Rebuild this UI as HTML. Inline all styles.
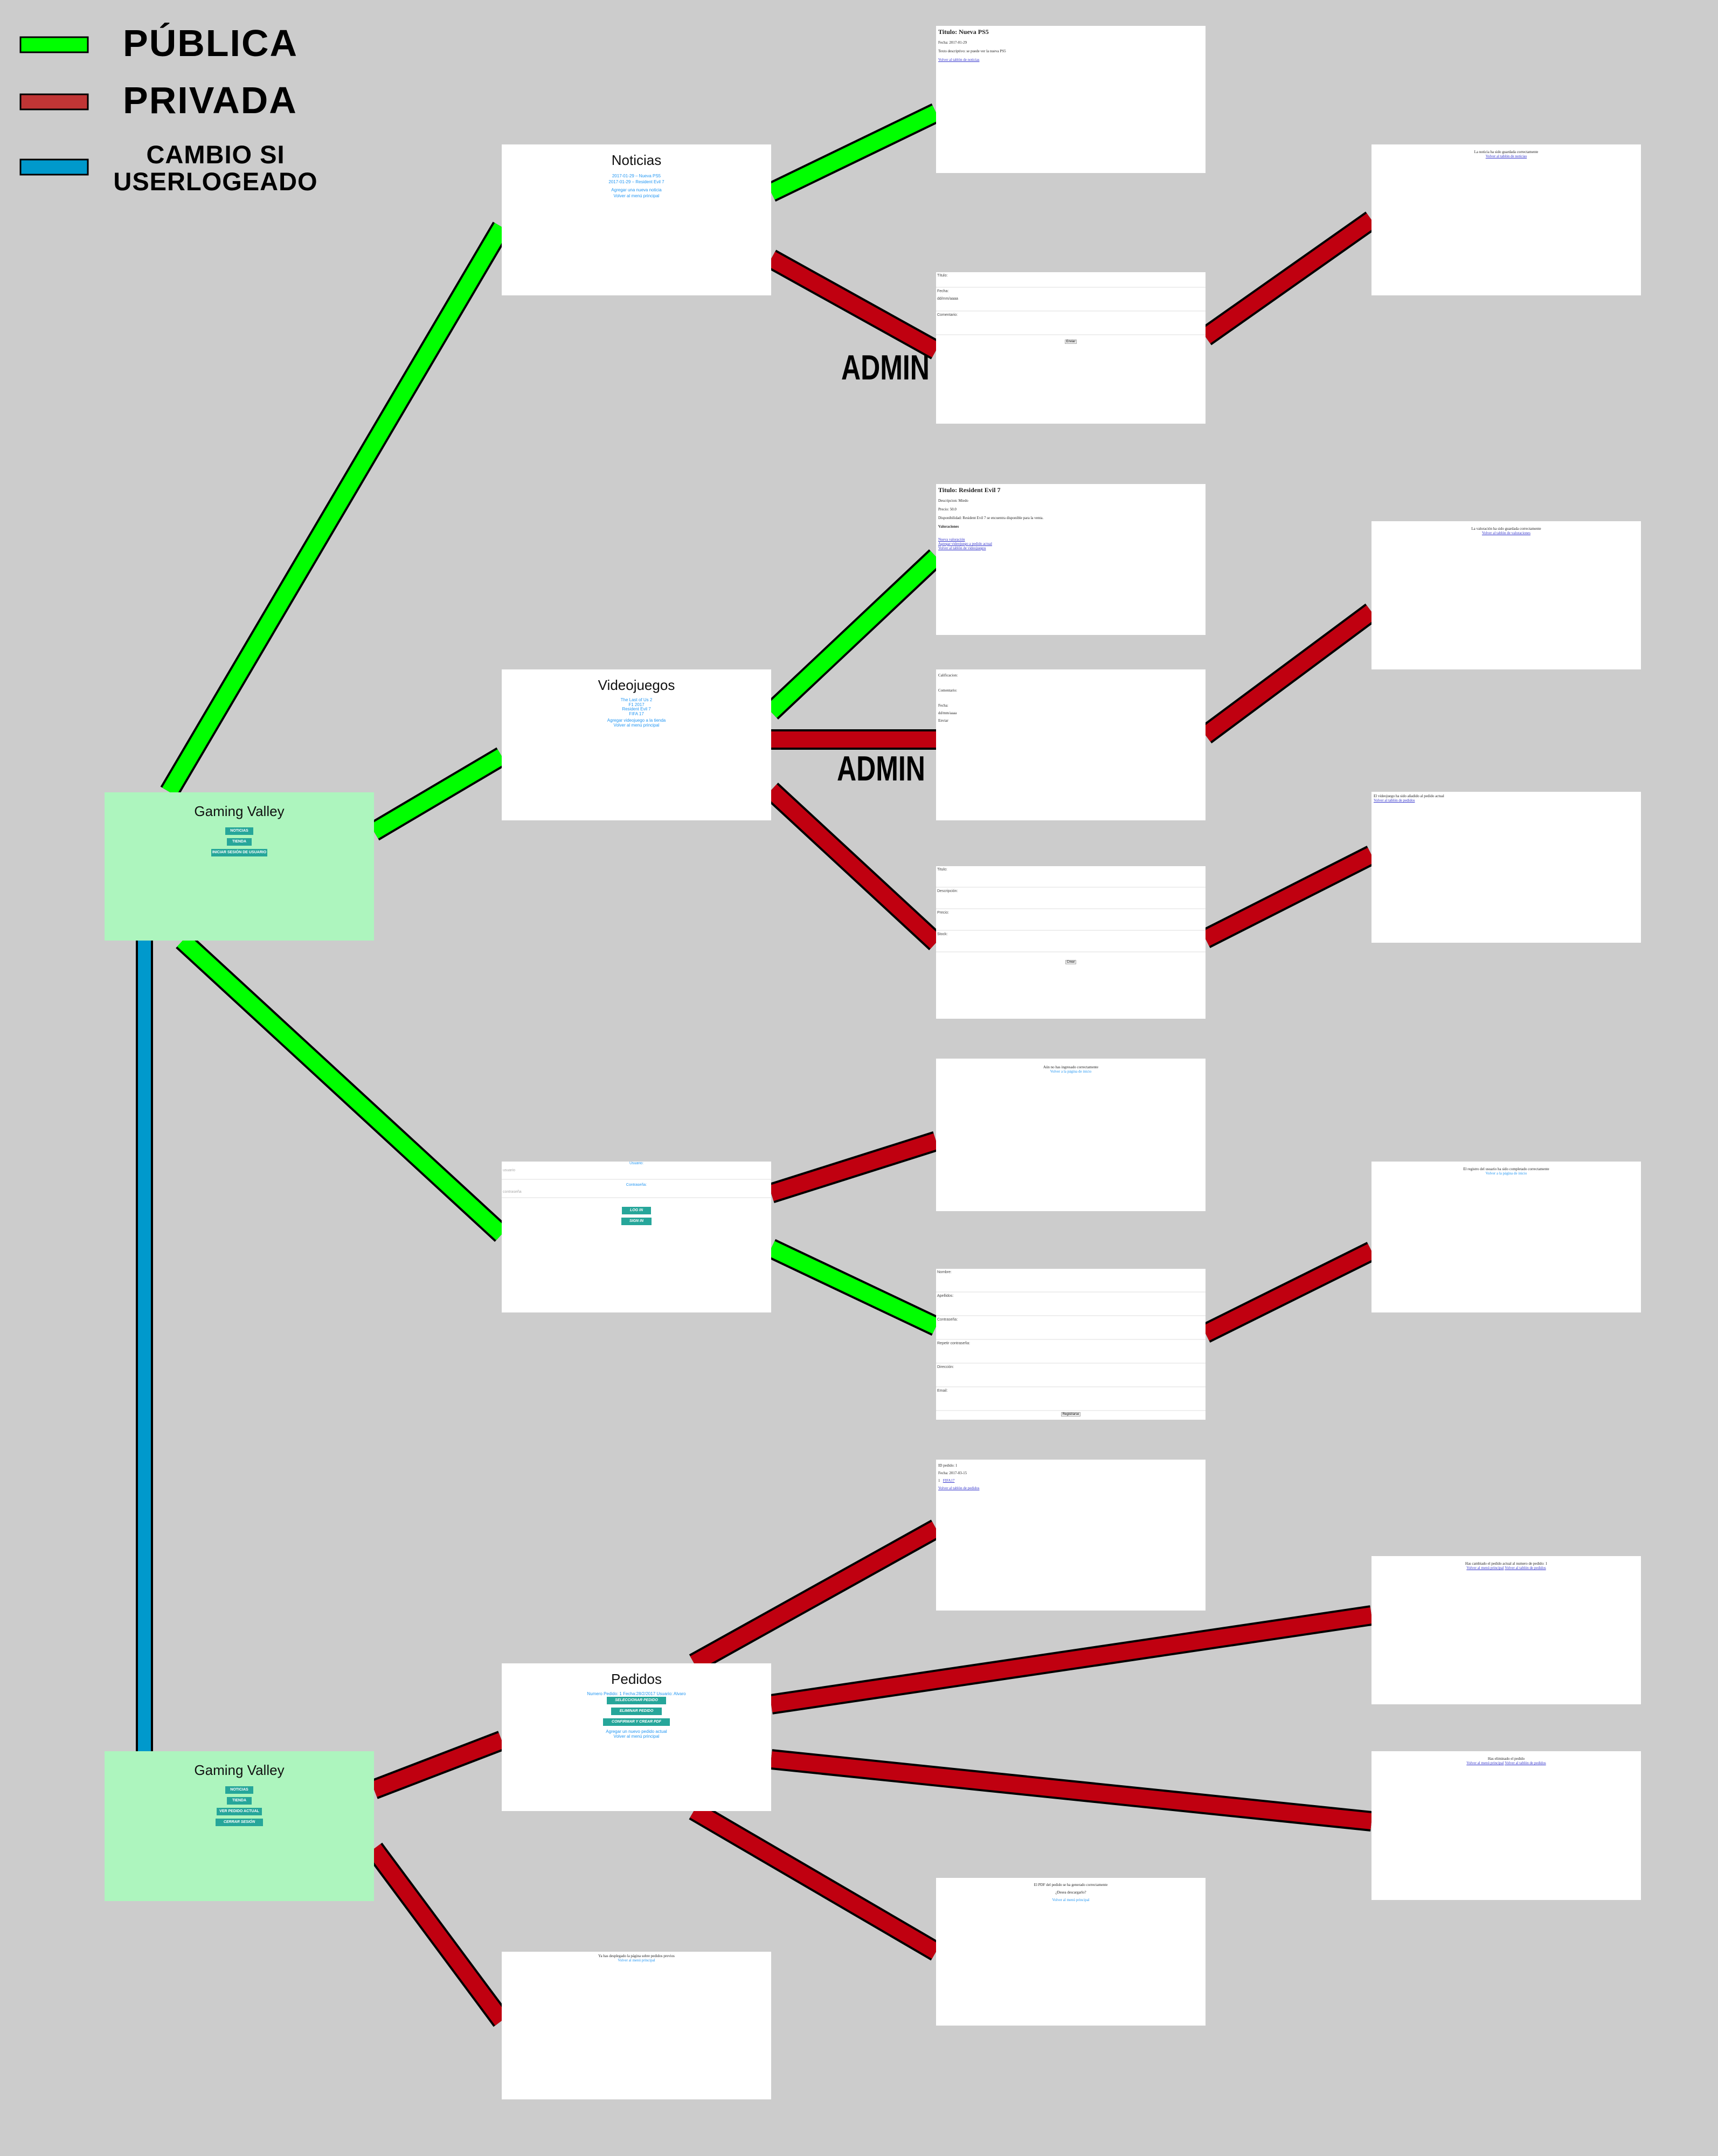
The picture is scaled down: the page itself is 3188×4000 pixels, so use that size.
<!DOCTYPE html>
<html><head><meta charset="utf-8">
<style>
*{margin:0;padding:0;box-sizing:border-box}
body{width:3188px;height:4000px;background:#cccccc;position:relative;overflow:hidden;font-family:"Liberation Sans",sans-serif}
.b{position:absolute;background:#fff;width:500px;height:280px;overflow:hidden}
.g{background:#adf5be}
.t{text-align:center;color:#111;font-size:26px;padding-top:14px}
.lk{color:#2196f3;font-size:8px;text-align:center;line-height:11px}
.btn{display:block;margin:6px auto 0;background:#26a69a;color:#fff;font-size:7px;font-weight:bold;text-align:center;height:14px;line-height:14px}
.serif{font-family:"Liberation Serif",serif;font-size:7px;color:#222;padding:4px}
.f{font-size:7px;color:#444;padding:3px 2px;border-bottom:2px solid #eee;height:44px}
.leg{position:absolute;font-weight:bold;color:#000;font-family:"Liberation Sans",sans-serif;z-index:5;white-space:nowrap}
</style></head><body>
<svg width="3188" height="4000" style="position:absolute;left:0;top:0">
<g stroke-linecap="butt" fill="none">
<g stroke="#000" stroke-width="38">
<line x1="314" y1="1469" x2="931" y2="421"/><line x1="694" y1="1543" x2="931" y2="1403"/><line x1="339" y1="1745" x2="931" y2="2290"/>
<line x1="1431" y1="357" x2="1737" y2="209"/><line x1="1431" y1="480" x2="1737" y2="650"/><line x1="2237" y1="625" x2="2545" y2="408"/>
<line x1="1431" y1="1321" x2="1737" y2="1033"/><line x1="1431" y1="1372" x2="1737" y2="1372"/><line x1="1431" y1="1466" x2="1737" y2="1749"/>
<line x1="2237" y1="1364" x2="2545" y2="1135"/><line x1="2237" y1="1742" x2="2545" y2="1586"/><line x1="1431" y1="2214" x2="1737" y2="2117"/>
<line x1="1431" y1="2316" x2="1737" y2="2461"/><line x1="2237" y1="2474" x2="2545" y2="2321"/><line x1="1288" y1="3086" x2="1737" y2="2836"/>
<line x1="1431" y1="3162" x2="2545" y2="2997"/><line x1="1431" y1="3264" x2="2545" y2="3379"/><line x1="1288" y1="3359" x2="1737" y2="3621"/>
<line x1="694" y1="3320" x2="931" y2="3229"/><line x1="694" y1="3430" x2="931" y2="3749"/>
</g>
<g stroke="#00ff00" stroke-width="30">
<line x1="314" y1="1469" x2="931" y2="421"/><line x1="694" y1="1543" x2="931" y2="1403"/><line x1="339" y1="1745" x2="931" y2="2290"/>
<line x1="1431" y1="357" x2="1737" y2="209"/><line x1="1431" y1="1321" x2="1737" y2="1033"/><line x1="1431" y1="2316" x2="1737" y2="2461"/>
</g>
<g stroke="#c00010" stroke-width="30">
<line x1="1431" y1="480" x2="1737" y2="650"/><line x1="2237" y1="625" x2="2545" y2="408"/>
<line x1="1431" y1="1372" x2="1737" y2="1372"/><line x1="1431" y1="1466" x2="1737" y2="1749"/>
<line x1="2237" y1="1364" x2="2545" y2="1135"/><line x1="2237" y1="1742" x2="2545" y2="1586"/><line x1="1431" y1="2214" x2="1737" y2="2117"/>
<line x1="2237" y1="2474" x2="2545" y2="2321"/><line x1="1288" y1="3086" x2="1737" y2="2836"/>
<line x1="1431" y1="3162" x2="2545" y2="2997"/><line x1="1431" y1="3264" x2="2545" y2="3379"/><line x1="1288" y1="3359" x2="1737" y2="3621"/>
<line x1="694" y1="3320" x2="931" y2="3229"/><line x1="694" y1="3430" x2="931" y2="3749"/>
</g>
</g>
<rect x="254" y="1740" width="28" height="1515" fill="#0099cc" stroke="#000" stroke-width="4"/>
<rect x="38" y="69" width="125" height="28" fill="#00ff00" stroke="#000" stroke-width="3"/>
<rect x="38" y="175" width="125" height="28" fill="#c03535" stroke="#000" stroke-width="3"/>
<rect x="38" y="296" width="125" height="28" fill="#0099cc" stroke="#000" stroke-width="3"/>
</svg>

<!-- Gaming Valley 1 -->
<div class="b g" style="left:194px;top:1470px;height:275px">
<div class="t" style="padding-top:20px">Gaming Valley</div>
<div class="btn" style="width:52px;margin-top:14px">NOTICIAS</div>
<div class="btn" style="width:46px">TIENDA</div>
<div class="btn" style="width:104px">INICIAR SESIÓN DE USUARIO</div>
</div>
<!-- Gaming Valley 2 -->
<div class="b g" style="left:194px;top:3249px;height:278px">
<div class="t" style="padding-top:20px">Gaming Valley</div>
<div class="btn" style="width:52px;margin-top:14px">NOTICIAS</div>
<div class="btn" style="width:46px">TIENDA</div>
<div class="btn" style="width:84px">VER PEDIDO ACTUAL</div>
<div class="btn" style="width:88px;font-style:italic">CERRAR SESIÓN</div>
</div>
<!-- Noticias -->
<div class="b" style="left:931px;top:268px">
<div class="t">Noticias</div>
<div class="lk" style="margin-top:8px">2017-01-29 – Nueva PS5<br>2017-01-29 – Resident Evil 7</div>
<div class="lk" style="margin-top:4px">Agregar una nueva noticia<br>Volver al menú principal</div>
</div>
<!-- Videojuegos -->
<div class="b" style="left:931px;top:1242px">
<div class="t">Videojuegos</div>
<div class="lk" style="margin-top:8px;line-height:8.5px">The Last of Us 2<br>F1 2017<br>Resident Evil 7<br>FIFA 17</div>
<div class="lk" style="margin-top:4px;line-height:8.5px">Agregar videojuego a la tienda<br>Volver al menú principal</div>
</div>
<!-- Login -->
<div class="b" style="left:931px;top:2155px">
<div class="f" style="height:34px;text-align:center;color:#2196f3;padding-top:0">Usuario:<div style="text-align:left;color:#aaa;margin-top:6px">usuario</div></div>
<div class="f" style="height:34px;text-align:center;color:#2196f3;padding-top:6px">Contraseña:<div style="text-align:left;color:#aaa;margin-top:6px">contraseña</div></div>
<div class="btn" style="width:54px;margin-top:16px;font-style:italic">LOG IN</div>
<div class="btn" style="width:56px;margin-top:6px;font-style:italic">SIGN IN</div>
</div>
<!-- Pedidos -->
<div class="b" style="left:931px;top:3086px;height:274px">
<div class="t">Pedidos</div>
<div class="lk" style="margin-top:6px">Numero Pedido: 1 Fecha:28/2/2017 Usuario: Alvaro</div>
<div class="btn" style="width:110px;margin-top:0;font-style:italic">SELECCIONAR PEDIDO</div>
<div class="btn" style="width:94px;font-style:italic">ELIMINAR PEDIDO</div>
<div class="btn" style="width:124px;font-style:italic">CONFIRMAR Y CREAR PDF</div>
<div class="lk" style="margin-top:6px;line-height:9px">Agregar un nuevo pedido actual<br>Volver al menú principal</div>
</div>
<!-- bottom -->
<div class="b" style="left:931px;top:3621px;height:274px"><div class="serif" style="text-align:center">Ya has desplegado la página sobre pedidos previos<br><span style="color:#2196f3">Volver al menú principal</span></div></div>

<!-- column 3 -->
<div class="b" style="left:1737px;top:48px;height:273px"><div class="serif"><b style="font-size:12px">Titulo: Nueva PS5</b><br><br>Fecha: 2017-01-29<br><br>Texto descriptivo: se puede ver la nueva PS5<br><br><u style="color:#33c">Volver al tablón de noticias</u></div></div>
<div class="b" style="left:1737px;top:505px;height:281px">
<div class="f" style="height:29px">Título:</div><div class="f">Fecha:<br><br>dd/mm/aaaa</div><div class="f" style="height:44px">Comentario:</div>
<div style="margin:8px auto;width:22px;border:1px solid #aaa;font-size:6px;text-align:center;background:#eee">Enviar</div></div>
<div class="b" style="left:1737px;top:898px"><div class="serif"><b style="font-size:12px">Titulo: Resident Evil 7</b><br><br>Descripcion: Miedo<br><br>Precio: 50.0<br><br>Disponibilidad: Resident Evil 7 se encuentra disponible para la venta.<br><br><b>Valoraciones</b><br><br><br><u style="color:#33c">Nueva valoración<br>Agregar videojuego a pedido actual<br>Volver al tablón de videojuegos</u></div></div>
<div class="b" style="left:1737px;top:1242px"><div class="serif" style="line-height:14px">Calificacion:<br><br>Comentario:<br><br>Fecha:<br>dd/mm/aaaa<br>Enviar</div></div>
<div class="b" style="left:1737px;top:1607px;height:283px">
<div class="f" style="height:40px">Titulo:</div><div class="f" style="height:40px">Descripción:</div><div class="f" style="height:40px">Precio:</div><div class="f" style="height:40px">Stock:</div>
<div style="margin:14px auto;width:20px;border:1px solid #aaa;font-size:6px;text-align:center;background:#eee">Crear</div></div>
<div class="b" style="left:1737px;top:1964px;height:283px"><div class="serif" style="text-align:center;margin-top:8px">Aún no has ingresado correctamente<br><span style="color:#2196f3">Volver a la página de inicio</span></div></div>
<div class="b" style="left:1737px;top:2354px">
<div class="f">Nombre:</div><div class="f">Apellidos:</div><div class="f">Contraseña:</div><div class="f">Repetir contraseña:</div><div class="f">Dirección:</div><div class="f">Email:</div>
<div style="margin:2px auto;width:36px;border:1px solid #aaa;font-size:6px;text-align:center;background:#eee">Registrarse</div></div>
<div class="b" style="left:1737px;top:2708px"><div class="serif" style="line-height:14px">ID pedido: 1<br>Fecha: 2017-03-15<br>1 &nbsp; <u style="color:#33c">FIFA17</u><br><u style="color:#33c">Volver al tablón de pedidos</u></div></div>
<div class="b" style="left:1737px;top:3484px;height:274px"><div class="serif" style="text-align:center;margin-top:2px;line-height:14px">El PDF del pedido se ha generado correctamente<br>¿Desea descargarlo?<br><span style="color:#2196f3">Volver al menú principal</span></div></div>

<!-- column 4 -->
<div class="b" style="left:2545px;top:268px"><div class="serif" style="text-align:center;margin-top:6px">La noticia ha sido guardada correctamente<br><u style="color:#33c">Volver al tablón de noticias</u></div></div>
<div class="b" style="left:2545px;top:967px;height:275px"><div class="serif" style="text-align:center;margin-top:6px">La valoración ha sido guardada correctamente<br><u style="color:#33c">Volver al tablón de valoraciones</u></div></div>
<div class="b" style="left:2545px;top:1469px"><div class="serif">El videojuego ha sido añadido al pedido actual<br><u style="color:#33c">Volver al tablón de pedidos</u></div></div>
<div class="b" style="left:2545px;top:2155px"><div class="serif" style="text-align:center;margin-top:6px">El registro del usuario ha sido completado correctamente<br><span style="color:#2196f3">Volver a la página de inicio</span></div></div>
<div class="b" style="left:2545px;top:2887px;height:275px"><div class="serif" style="text-align:center;margin-top:6px">Has cambiado el pedido actual al numero de pedido: 1<br><u style="color:#33c">Volver al menú principal</u> <u style="color:#33c">Volver al tablón de pedidos</u></div></div>
<div class="b" style="left:2545px;top:3249px;height:276px"><div class="serif" style="text-align:center;margin-top:6px">Has eliminado el pedido<br><u style="color:#33c">Volver al menú principal</u> <u style="color:#33c">Volver al tablón de pedidos</u></div></div>

<!-- labels on top -->
<div class="leg" style="left:228px;top:38px;font-size:70px;letter-spacing:2px;line-height:84px">PÚBLICA</div>
<div class="leg" style="left:228px;top:144px;font-size:70px;letter-spacing:2px;line-height:84px">PRIVADA</div>
<div class="leg" style="left:190px;top:262px;width:420px;text-align:center;font-size:47px;line-height:50px;letter-spacing:1px">CAMBIO SI<br>USERLOGEADO</div>
<div class="leg" style="left:1561px;top:652px;font-size:50px;line-height:60px;transform:scaleY(1.3);transform-origin:left center">ADMIN</div>
<div class="leg" style="left:1553px;top:1396px;font-size:50px;line-height:60px;transform:scaleY(1.3);transform-origin:left center">ADMIN</div>
</body></html>
